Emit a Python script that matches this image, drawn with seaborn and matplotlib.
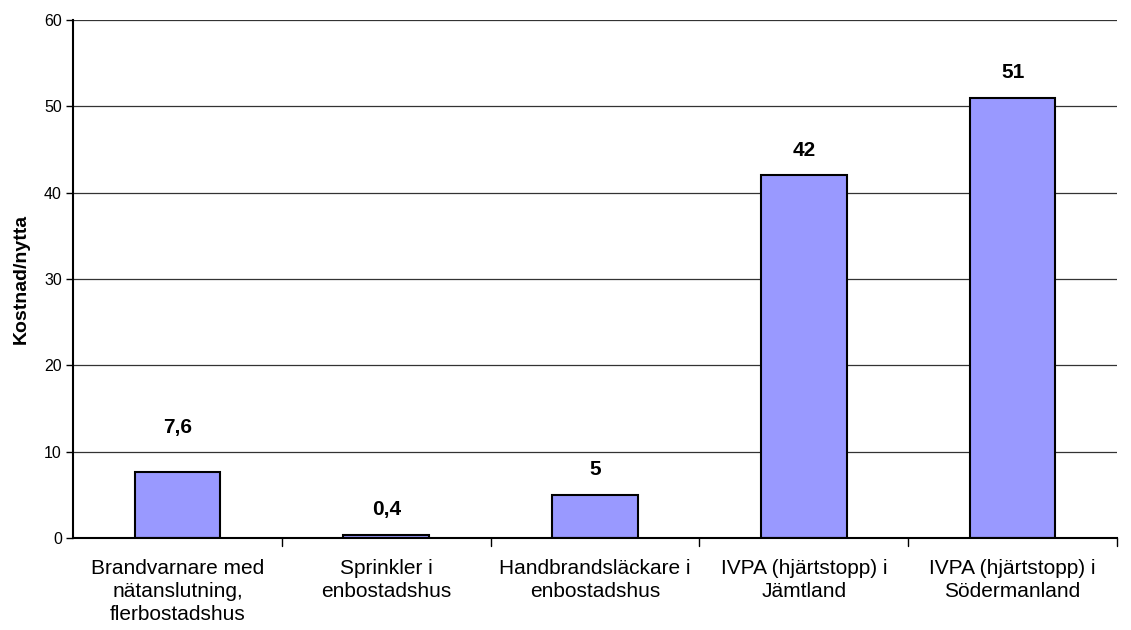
import matplotlib
matplotlib.use("Agg")
import matplotlib.pyplot as plt
import seaborn as sns
import pandas as pd
import numpy as np

categories = [
    "Brandvarnare med\nnätanslutning,\nflerbostadshus",
    "Sprinkler i\nenbostadshus",
    "Handbrandsläckare i\nenbostadshus",
    "IVPA (hjärtstopp) i\nJämtland",
    "IVPA (hjärtstopp) i\nSödermanland",
]
values = [7.6, 0.4, 5, 42, 51]
value_labels = ["7,6", "0,4", "5", "42", "51"]
y_ticks = [0, 10, 20, 30, 40, 50, 60]

sns.set_theme(style="white")
plt.rcParams["font.family"] = ["Liberation Sans", "DejaVu Sans"]
plt.rcParams["text.color"] = "black"
plt.rcParams["axes.labelcolor"] = "black"
plt.rcParams["xtick.color"] = "black"
plt.rcParams["ytick.color"] = "black"

df = pd.DataFrame({"kategori": categories, "varde": values})

fig = plt.figure(figsize=(11.31, 6.3), dpi=100)
ax = fig.add_axes([73 / 1131, 1 - 538 / 630, (1117 - 73) / 1131, (538 - 20) / 630])

sns.barplot(data=df, x="kategori", y="varde", ax=ax, color="#9999FF",
            saturation=1, width=0.41, edgecolor="black", linewidth=1.5)

ax.set_xlim(-0.5, len(categories) - 0.5)
ax.set_ylim(0, 60)
ax.set_yticks(y_ticks)
ax.set_yticklabels([str(t) for t in y_ticks], fontsize=11.5)
ax.yaxis.grid(True, color="#333333", linewidth=0.9)
ax.set_axisbelow(True)

# category labels centred under each bar, ticks on category boundaries
ax.set_xticks(range(len(categories)))
ax.set_xticklabels(categories, fontsize=15, linespacing=1.27)
ax.tick_params(axis="x", length=0, pad=15)
for b in np.arange(0.5, len(categories) - 0.5 + 0.01, 1.0):
    ax.plot([b, b], [0, -0.9], color="black", linewidth=1, clip_on=False)
ax.tick_params(axis="y", length=5, width=1, color="black", direction="out", left=True, pad=3)

for side in ["top", "right"]:
    ax.spines[side].set_visible(False)
for side in ["left", "bottom"]:
    ax.spines[side].set_color("black")
    ax.spines[side].set_linewidth(1.5)

ax.set_xlabel("")
ax.set_ylabel("Kostnad/nytta", fontsize=14, fontweight="bold", labelpad=10)

offsets = [32, 18, 18, 18, 18]
for i, (v, lab, off) in enumerate(zip(values, value_labels, offsets)):
    ax.annotate(lab, (i, v), xytext=(0, off), textcoords="offset points",
                ha="center", va="center", fontsize=15, fontweight="bold")

fig.savefig("out.png", dpi=100)
